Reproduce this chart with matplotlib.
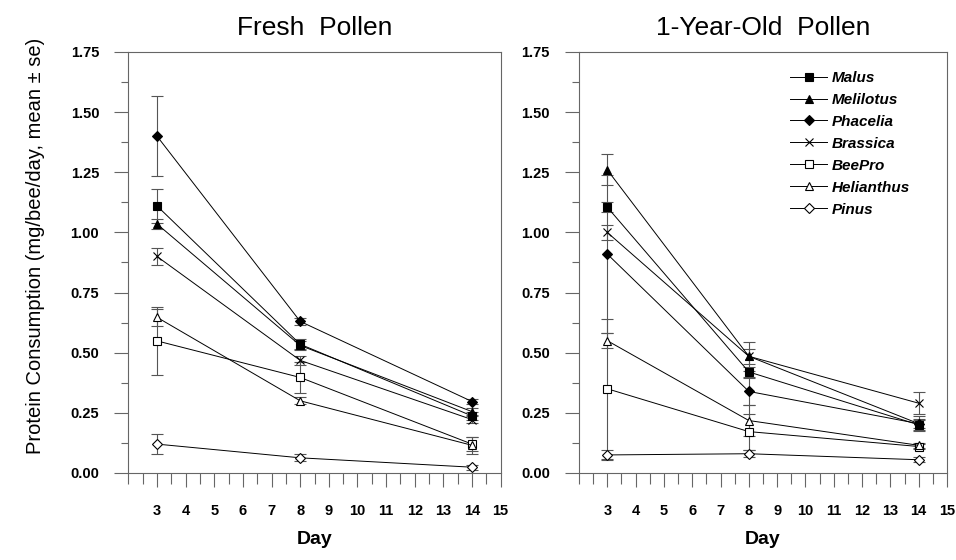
import numpy as np
import matplotlib
matplotlib.use("Agg")
import matplotlib.pyplot as plt
from matplotlib.ticker import MultipleLocator, FixedLocator

plt.rcParams['font.family'] = ['Liberation Sans', 'DejaVu Sans']

# --- Data ---
days = [3, 8, 14]
species = ["Malus", "Melilotus", "Phacelia", "Brassica", "BeePro", "Helianthus", "Pinus"]

fresh_mean = {
    "Malus":      [1.11, 0.535, 0.237],
    "Melilotus":  [1.035, 0.53, 0.255],
    "Phacelia":   [1.40, 0.63, 0.297],
    "Brassica":   [0.90, 0.468, 0.222],
    "BeePro":     [0.549, 0.397, 0.12],
    "Helianthus": [0.647, 0.30, 0.115],
    "Pinus":      [0.12, 0.063, 0.024],
}
fresh_se = {
    "Malus":      [0.07, 0.02, 0.015],
    "Melilotus":  [0.02, 0.02, 0.015],
    "Phacelia":   [0.165, 0.015, 0.012],
    "Brassica":   [0.035, 0.02, 0.015],
    "BeePro":     [0.14, 0.065, 0.03],
    "Helianthus": [0.035, 0.015, 0.035],
    "Pinus":      [0.04, 0.015, 0.01],
}
old_mean = {
    "Malus":      [1.105, 0.42, 0.20],
    "Melilotus":  [1.26, 0.485, 0.205],
    "Phacelia":   [0.91, 0.339, 0.205],
    "Brassica":   [1.0, 0.485, 0.29],
    "BeePro":     [0.35, 0.172, 0.11],
    "Helianthus": [0.55, 0.218, 0.115],
    "Pinus":      [0.075, 0.08, 0.055],
}
old_se = {
    "Malus":      [0.02, 0.02, 0.02],
    "Melilotus":  [0.065, 0.06, 0.03],
    "Phacelia":   [0.33, 0.055, 0.02],
    "Brassica":   [0.03, 0.03, 0.045],
    "BeePro":     [0.29, 0.075, 0.01],
    "Helianthus": [0.03, 0.065, 0.01],
    "Pinus":      [0.02, 0.015, 0.01],
}

# marker, face colour
styles = {
    "Malus":      ("s", "black"),
    "Melilotus":  ("^", "black"),
    "Phacelia":   ("D", "black"),
    "Brassica":   ("x", "black"),
    "BeePro":     ("s", "white"),
    "Helianthus": ("^", "white"),
    "Pinus":      ("D", "white"),
}

fig = plt.figure(figsize=(9.56, 5.6), dpi=100)
ax1 = fig.add_axes([0.1343, 0.1554, 0.3894, 0.7518])
ax2 = fig.add_axes([0.6056, 0.1554, 0.3850, 0.7518])


def draw_panel(ax, means, ses, title):
    for sp in species:
        m, fc = styles[sp]
        ms = 5.5 if m != "D" else 5
        ax.errorbar(days, means[sp], yerr=ses[sp], color="black", lw=0.7,
                    marker=m, ms=ms, mfc=fc, mec="black", mew=0.8,
                    ecolor="#555555", elinewidth=0.8, capsize=4, capthick=0.8,
                    label=sp, zorder=3)
    ax.set_xlim(2, 15)
    ax.set_ylim(0, 1.75)
    ax.yaxis.set_major_locator(MultipleLocator(0.25))
    ax.yaxis.set_minor_locator(MultipleLocator(0.125))
    ax.xaxis.set_major_locator(FixedLocator(range(3, 16)))
    ax.xaxis.set_minor_locator(MultipleLocator(0.5))
    ax.yaxis.set_major_formatter(plt.FuncFormatter(lambda v, p: f"{v:.2f}"))
    ax.tick_params(axis="y", which="major", direction="out", length=10, width=0.8,
                   color="#666666", pad=11, labelsize=10.5)
    ax.tick_params(axis="y", which="minor", direction="out", length=5, width=0.8,
                   color="#666666")
    ax.tick_params(axis="x", which="major", direction="out", length=10, width=0.8,
                   color="#666666", pad=12, labelsize=10.5)
    ax.tick_params(axis="x", which="minor", direction="out", length=8, width=0.8,
                   color="#666666")
    for lab in ax.get_xticklabels() + ax.get_yticklabels():
        lab.set_fontweight("bold")
    for s in ax.spines.values():
        s.set_color("#666666")
        s.set_linewidth(0.8)
    ax.set_title(title, fontsize=19, pad=12)
    ax.set_xlabel("Day", fontsize=14, fontweight="bold", labelpad=10)


draw_panel(ax1, fresh_mean, fresh_se, "Fresh  Pollen")
draw_panel(ax2, old_mean, old_se, "1-Year-Old  Pollen")

ax1.set_ylabel("Protein Consumption (mg/bee/day, mean \u00b1 se)", fontsize=14.5)
ax1.yaxis.set_label_coords(-0.225, 0.54)

# legend entries without error bars
handles, labels = ax2.get_legend_handles_labels()
handles = [h[0] for h in handles]
leg = ax2.legend(handles, labels, loc="upper left", bbox_to_anchor=(0.574, 0.955),
                 frameon=False, handlelength=2.4, handletextpad=0.35,
                 labelspacing=0.52, borderaxespad=0, borderpad=0,
                 prop={"size": 11, "weight": "bold", "style": "italic"})

fig.savefig("out.png", dpi=100)
